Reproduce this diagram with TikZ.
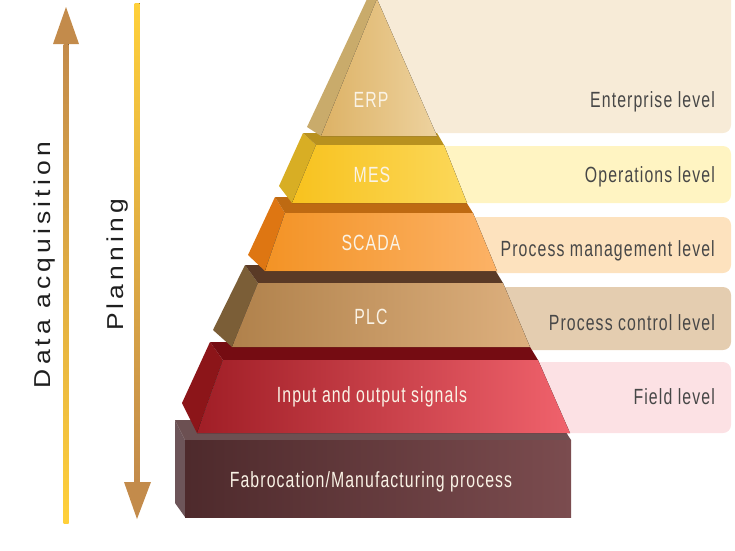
\documentclass[tikz,border=0pt]{standalone}
\usepackage{fontspec}
\setmainfont{Liberation Sans}
\newfontfamily\lblfont[FakeStretch=0.72,LetterSpace=5]{Liberation Sans}
\newfontfamily\sidefont[FakeStretch=1.15,LetterSpace=18]{Liberation Sans}
\definecolor{entC}{HTML}{F7EBD7}
\definecolor{opsC}{HTML}{FFF4C2}
\definecolor{pmC}{HTML}{FDE2BE}
\definecolor{pcC}{HTML}{E4CDB0}
\definecolor{fldC}{HTML}{FCE1E4}
\definecolor{erpL}{HTML}{DDB265}
\definecolor{erpR}{HTML}{EDD29F}
\definecolor{erpS}{HTML}{C9AB6B}
\definecolor{mesL}{HTML}{F8C21E}
\definecolor{mesR}{HTML}{FBD85A}
\definecolor{mesT}{HTML}{B8911F}
\definecolor{mesS}{HTML}{D8AE24}
\definecolor{scaL}{HTML}{F39325}
\definecolor{scaR}{HTML}{FCB266}
\definecolor{scaT}{HTML}{BE6A12}
\definecolor{scaS}{HTML}{DE7612}
\definecolor{plcL}{HTML}{B0814B}
\definecolor{plcR}{HTML}{DDB07E}
\definecolor{plcT}{HTML}{5A3A26}
\definecolor{plcS}{HTML}{7B5E37}
\definecolor{ioL}{HTML}{A01E26}
\definecolor{ioR}{HTML}{F0626C}
\definecolor{ioT}{HTML}{750C12}
\definecolor{ioS}{HTML}{8C1519}
\definecolor{fabL}{HTML}{4E2A2C}
\definecolor{fabR}{HTML}{7B4C4F}
\definecolor{fabT}{HTML}{6C5052}
\definecolor{fabS}{HTML}{6D5559}
\definecolor{arrBrown}{HTML}{C38B4B}
\definecolor{arrYellow}{HTML}{FFD03A}
\definecolor{lvlText}{HTML}{474747}
\definecolor{pyrText}{HTML}{FAF3E6}
\begin{document}
\begin{tikzpicture}[x=1pt,y=-1pt,
  lvlbox/.style={rounded corners=8pt},
  pyrlabel/.style={anchor=base,inner sep=0pt,text=pyrText,font=\lblfont\fontsize{22}{26}\selectfont},
  lvllabel/.style={anchor=base east,inner sep=0pt,text=lvlText,font=\lblfont\fontsize{22}{26}\selectfont},
  sidelabel/.style={anchor=base,inner sep=0pt,rotate=90,text=black!88,font=\sidefont\fontsize{23}{27}\selectfont}]
\useasboundingbox (0,0) rectangle (735,550);
% level boxes
\fill[entC,lvlbox] (376,-10) rectangle (731,133);
\fill[opsC,lvlbox] (430,146) rectangle (731,203);
\fill[pmC,lvlbox] (460,217) rectangle (731,273);
\fill[pcC,lvlbox] (490,287) rectangle (731,350);
\fill[fldC,lvlbox] (525,362) rectangle (731,433);
% fabrication box
\fill[fabS] (175,420) -- (185,440) -- (185,517) -- (175,503) -- cycle;
\fill[fabT] (175,420) -- (558,420) -- (571,440) -- (185,440) -- cycle;
\fill[left color=fabL,right color=fabR] (185,440) rectangle (571,517);
% IO
\fill[ioS] (210,342) -- (223,360) -- (197,433) -- (182,403) -- cycle;
\fill[ioT] (210,342) -- (527,342) -- (538,360) -- (223,360) -- cycle;
\fill[left color=ioL,right color=ioR] (223,360) -- (538,360) -- (570,433) -- (197,433) -- cycle;
% PLC
\fill[plcS] (245,265) -- (258,283) -- (232,347) -- (213,330) -- cycle;
\fill[plcT] (245,265) -- (492,265) -- (503,283) -- (258,283) -- cycle;
\fill[left color=plcL,right color=plcR] (258,283) -- (503,283) -- (530,347) -- (232,347) -- cycle;
% SCADA
\fill[scaS] (275,197) -- (285,213) -- (265,271) -- (248,255) -- cycle;
\fill[scaT] (275,197) -- (463,197) -- (473,213) -- (285,213) -- cycle;
\fill[left color=scaL,right color=scaR] (285,213) -- (473,213) -- (497,271) -- (265,271) -- cycle;
% MES
\fill[mesS] (303,133) -- (316,145) -- (292,203) -- (279,186) -- cycle;
\fill[mesT] (303,133) -- (437,133) -- (444,145) -- (316,145) -- cycle;
\fill[left color=mesL,right color=mesR] (316,145) -- (444,145) -- (467,203) -- (292,203) -- cycle;
% ERP
\fill[erpS] (367,-1) -- (377,-1) -- (321,136) -- (307,127) -- cycle;
\fill[left color=erpL,right color=erpR] (377,-1) -- (437,136) -- (321,136) -- cycle;
% pyramid labels
\node[pyrlabel] (erp) at (371,107) {ERP};
\node[pyrlabel] (mes) at (372,182) {MES};
\node[pyrlabel] (scada) at (371,250) {SCADA};
\node[pyrlabel] (plc) at (371,324) {PLC};
\node[pyrlabel] (io) at (372,402) {Input and output signals};
\node[pyrlabel] (fab) at (371,487) {Fabrocation/Manufacturing process};
% level labels
\node[lvllabel] (ent) at (715,107) {Enterprise level};
\node[lvllabel] (ops) at (715,182) {Operations level};
\node[lvllabel] (pm) at (715,256) {Process management level};
\node[lvllabel] (pc) at (715,330) {Process control level};
\node[lvllabel] (fld) at (715,404) {Field level};
% arrows
\coordinate (daBot) at (63.5,523);
\coordinate (daTop) at (68.5,44);
\fill[top color=arrBrown,bottom color=arrYellow] (daBot) rectangle (daTop);
\fill[arrBrown] (53,44) -- (79,44) -- (66,7) -- cycle;
\coordinate (plTop) at (134.5,3);
\coordinate (plBot) at (139.5,482);
\fill[top color=arrYellow,bottom color=arrBrown] (plTop) rectangle (plBot);
\fill[arrBrown] (124,482) -- (151,482) -- (137,519) -- cycle;
\node[sidelabel] (da) at (50,265) {Data acquisition};
\node[sidelabel] (plan) at (123,265) {Planning};
\end{tikzpicture}
\end{document}
